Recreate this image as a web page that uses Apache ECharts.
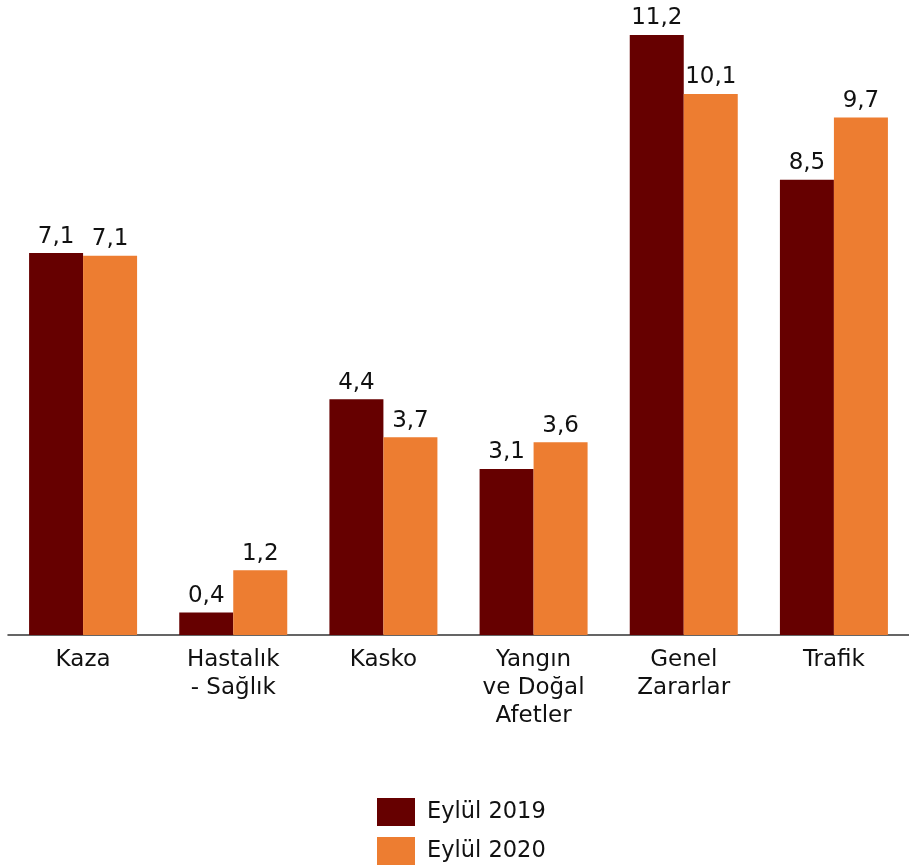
<!DOCTYPE html>
<html>
<head>
<meta charset="utf-8">
<script src="https://cdn.jsdelivr.net/npm/echarts@6/dist/echarts.min.js"></script>
<style>html,body{margin:0;padding:0;background:#fff}#c{width:909px;height:868px}</style>
</head>
<body>
<div id="c"></div>
<script>
var categories = ['Kaza', 'Hastalık\n- Sağlık', 'Kasko', 'Yangın\nve Doğal\nAfetler', 'Genel\nZararlar', 'Trafik'];
var seriesNames = ['Eylül 2019', 'Eylül 2020'];
var values2019 = [7.13, 0.42, 4.4, 3.1, 11.2, 8.5];
var values2020 = [7.08, 1.21, 3.69, 3.6, 10.1, 9.66];

var FONT = 'DejaVu Sans';
var fmt = function (p) { return p.value.toFixed(1).replace('.', ','); };
function legendFor(name, top) {
  return {
    left: 377, top: top, icon: 'rect', padding: 0,
    itemWidth: 38, itemHeight: 28, itemGap: 11,
    textStyle: {fontSize: 22.5, color: '#111', fontFamily: FONT, padding: [0, 0, 0, 7]},
    data: [name]
  };
}
var chart = echarts.init(document.getElementById('c'), null, {renderer: 'canvas'});
chart.setOption({
  animation: false,
  textStyle: {fontFamily: FONT},
  grid: {left: 8, top: 35, width: 909.6, height: 600, containLabel: false},
  xAxis: {
    type: 'category',
    data: categories,
    axisLine: {lineStyle: {color: '#333', width: 1.5}},
    axisTick: {show: false},
    axisLabel: {color: '#111', fontSize: 23, lineHeight: 28, margin: 11, interval: 0, fontFamily: FONT}
  },
  yAxis: {type: 'value', min: 0, max: 11.2, show: false, splitLine: {show: false}},
  legend: [legendFor(seriesNames[0], 798), legendFor(seriesNames[1], 837)],
  series: [
    {name: seriesNames[0], type: 'bar', data: values2019, barWidth: 54, barGap: '0%',
     itemStyle: {color: '#660000'},
     label: {show: true, position: 'top', distance: 5, fontSize: 23, color: '#111', fontFamily: FONT, formatter: fmt}},
    {name: seriesNames[1], type: 'bar', data: values2020, barWidth: 54, barGap: '0%',
     itemStyle: {color: '#ED7D31'},
     label: {show: true, position: 'top', distance: 5, fontSize: 23, color: '#111', fontFamily: FONT, formatter: fmt}}
  ]
});
</script>
</body>
</html>
